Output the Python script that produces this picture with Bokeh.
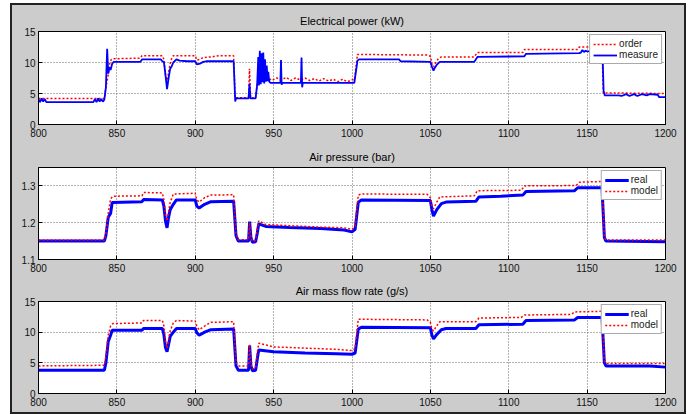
from bokeh.plotting import figure
from bokeh.layouts import column
from bokeh.models import Legend, LegendItem, FixedTicker, Range1d
from bokeh.embed import file_html
from bokeh.resources import INLINE

x_ticks = [800, 850, 900, 950, 1000, 1050, 1100, 1150, 1200]
kw_ticks = [0, 5, 10, 15]
bar_ticks = [1.1, 1.2, 1.3]

power_order = [(800, 4.2), (842, 4.2), (843, 6.0), (844.5, 8.0), (845.5, 10.0), (846.5, 10.5), (848, 10.6),
               (865, 10.7), (866, 11.1), (879, 11.1), (880, 10.5), (881, 8.0), (882, 6.8), (883, 8.5),
               (884, 9.8), (885, 10.7), (886, 11.1), (900, 11.1), (901, 10.4), (903, 10.5), (905, 10.8),
               (910, 10.9), (915, 11.1), (924.5, 11.1), (925.5, 4.3), (934, 4.3), (934.6, 9.0), (935.3, 4.3),
               (938.5, 4.3), (939.5, 6.5), (940.5, 7.5), (943, 7.2), (946, 7.6), (949, 7.1), (952, 7.5),
               (955, 7.2), (958, 7.6), (961, 7.1), (964, 7.5), (967, 7.2), (970, 7.5), (973, 7.1), (976, 7.4),
               (979, 7.0), (982, 7.4), (985, 7.0), (988, 7.3), (991, 6.9), (994, 7.3), (997, 6.9), (1000, 7.2),
               (1001.5, 7.2), (1003.5, 11.3), (1048, 11.2), (1050, 11.0), (1051, 9.8), (1052, 9.3), (1053, 9.8),
               (1055, 10.6), (1057, 10.9), (1078, 10.9), (1080, 11.6), (1109, 11.6), (1110, 12.1), (1144, 12.1),
               (1145, 12.5), (1159.5, 12.5), (1160.3, 5.1), (1200, 5.0)]

power_measure = [(800, 4.1), (801, 3.6), (802, 4.2), (803, 3.7), (804, 4.1), (805, 3.6), (806, 3.6), (835, 3.6),
                 (836, 4.1), (837, 3.6), (838, 4.2), (839, 3.7), (840, 4.1), (841, 3.7), (842, 4.0), (843, 6.0),
                 (843.8, 12.2), (844.5, 8.2), (845.2, 9.2), (846, 8.8), (847, 9.8), (848, 10.1), (865, 10.1),
                 (866, 10.5), (878, 10.5), (879, 10.2), (880, 10.1), (881, 8.0), (882, 5.7), (883, 7.5), (884, 9.0),
                 (885, 9.4), (886, 10.0), (888, 10.5), (890, 10.3), (895, 10.2), (900, 10.2), (901, 9.7),
                 (903, 9.8), (905, 10.1), (907, 10.2), (924.5, 10.2), (925.5, 3.7), (926, 4.2), (934, 4.2),
                 (934.6, 6.6), (935.2, 4.2), (938.5, 4.2), (939.5, 6.4), (940.2, 10.9), (940.6, 6.3),
                 (941.2, 11.9), (941.8, 6.5), (942.3, 11.5), (942.8, 6.8), (943.4, 11.6), (944.0, 6.6),
                 (944.5, 10.5), (945.0, 6.9), (945.6, 9.5), (946.2, 7.0), (946.6, 8.5), (947.2, 6.9), (948, 6.7),
                 (954.3, 6.7), (954.7, 10.4), (955.1, 6.4), (955.5, 6.7), (967.4, 6.7), (967.8, 10.8), (968.2, 6.0),
                 (968.6, 6.7), (1001.5, 6.7), (1003.5, 10.3), (1004.5, 10.5), (1030, 10.5), (1031, 10.2),
                 (1050, 10.1), (1051, 9.3), (1052, 8.7), (1053, 9.2), (1054, 9.6), (1056, 10.1), (1078, 10.1),
                 (1080, 10.9), (1110, 11.0), (1111, 11.4), (1145, 11.5), (1146, 11.6), (1147, 12.0), (1148, 11.7),
                 (1149, 11.9), (1150, 11.8), (1159.8, 11.8), (1160.5, 5.5), (1161.2, 4.7), (1170, 4.7),
                 (1172, 4.6), (1175, 4.9), (1177, 4.6), (1180, 4.9), (1182, 4.6), (1185, 4.9), (1188, 4.7),
                 (1190, 4.9), (1195, 4.8), (1196, 4.4), (1200, 4.4)]

pressure_real = [(800, 1.150), (842, 1.150), (843, 1.165), (844.5, 1.215), (846, 1.225), (847, 1.255), (866, 1.257),
                 (867, 1.263), (879, 1.262), (880, 1.245), (881, 1.205), (882, 1.186), (883, 1.215), (884, 1.235),
                 (886, 1.25), (888, 1.262), (900, 1.262), (901, 1.245), (902.5, 1.240), (906, 1.25), (910, 1.257),
                 (924.5, 1.258), (926, 1.165), (927.5, 1.15), (934, 1.15), (934.7, 1.203), (935.5, 1.16),
                 (936.5, 1.147), (938.5, 1.148), (939.5, 1.17), (940.5, 1.197), (945, 1.190), (960, 1.187),
                 (980, 1.184), (995, 1.180), (1000, 1.175), (1002, 1.182), (1004, 1.255), (1006, 1.262),
                 (1050, 1.260), (1051, 1.235), (1052, 1.218), (1054, 1.235), (1057, 1.252), (1060, 1.256),
                 (1079, 1.258), (1081, 1.27), (1095, 1.272), (1109, 1.275), (1111, 1.285), (1142, 1.287),
                 (1144, 1.295), (1159.5, 1.295), (1161, 1.16), (1162, 1.15), (1200, 1.148)]

pressure_model = [(800, 1.153), (842, 1.153), (843, 1.17), (844.5, 1.225), (846, 1.265), (847.5, 1.272), (866, 1.273),
                  (867, 1.282), (879, 1.281), (880, 1.262), (881, 1.22), (882, 1.205), (883, 1.23), (884, 1.255),
                  (886, 1.278), (900, 1.28), (901, 1.262), (902.5, 1.256), (906, 1.268), (910, 1.275),
                  (924.5, 1.276), (926, 1.17), (927.5, 1.154), (934, 1.154), (934.7, 1.2), (935.5, 1.16),
                  (936.5, 1.15), (938.5, 1.152), (939.5, 1.18), (940.5, 1.205), (945, 1.195), (960, 1.192),
                  (980, 1.188), (995, 1.186), (1000, 1.182), (1002, 1.19), (1004, 1.275), (1006, 1.278),
                  (1048, 1.277), (1050, 1.268), (1051, 1.245), (1052, 1.238), (1054, 1.255), (1056, 1.27),
                  (1078, 1.273), (1080, 1.287), (1108, 1.288), (1110, 1.3), (1143, 1.301), (1145, 1.31),
                  (1159.5, 1.312), (1161, 1.16), (1162, 1.153), (1200, 1.153)]

flow_real = [(800, 3.8), (842, 3.8), (843, 5.0), (844.5, 8.5), (846, 9.5), (847, 10.3), (866, 10.3), (867, 10.6),
             (879, 10.6), (880, 9.6), (881, 7.5), (882, 6.8), (883, 8.0), (884, 9.3), (886, 10.0), (888, 10.6),
             (900, 10.6), (901, 9.9), (902.5, 9.5), (906, 10.0), (910, 10.4), (924.5, 10.5), (926, 4.5),
             (927.5, 3.8), (934, 3.8), (934.7, 7.8), (935.5, 4.5), (936.5, 3.7), (938.5, 3.8), (939.5, 5.5),
             (940.5, 7.1), (950, 6.8), (970, 6.6), (990, 6.5), (1000, 6.4), (1002, 6.6), (1004, 10.5),
             (1006, 10.8), (1050, 10.7), (1051, 9.5), (1052, 8.9), (1054, 9.6), (1057, 10.4), (1060, 10.6),
             (1079, 10.6), (1081, 11.2), (1109, 11.3), (1111, 11.9), (1142, 12.0), (1144, 12.4), (1159.5, 12.4),
             (1161, 5.0), (1162, 4.5), (1190, 4.5), (1200, 4.3)]

flow_model = [(800, 4.5), (842, 4.6), (843, 6.0), (844.5, 9.5), (846, 11.0), (847.5, 11.4), (866, 11.5), (867, 11.9),
              (879, 11.9), (880, 11.0), (881, 8.5), (882, 7.4), (883, 8.8), (884, 10.2), (886, 11.5), (888, 11.9),
              (900, 11.8), (901, 10.9), (902.5, 10.4), (906, 11.0), (910, 11.6), (924.5, 11.7), (926, 5.0),
              (927.5, 4.5), (934, 4.5), (934.7, 8.0), (935.5, 4.8), (936.5, 4.0), (938.5, 4.2), (939.5, 6.5),
              (940.5, 8.2), (950, 7.6), (970, 7.4), (990, 7.2), (1000, 7.0), (1002, 7.3), (1004, 12.1),
              (1006, 12.1), (1048, 12.0), (1050, 11.6), (1051, 10.5), (1052, 10.2), (1054, 11.0), (1056, 11.7),
              (1079, 11.7), (1081, 12.3), (1108, 12.4), (1110, 12.8), (1140, 12.9), (1142, 13.3), (1159.5, 13.4),
              (1161, 5.3), (1162, 4.9), (1200, 4.9)]

FONT = "Liberation Sans"
BLUE = "#0000ff"
RED = "#ff0000"


def xs(pts):
    return [p[0] for p in pts]


def ys(pts):
    return [p[1] for p in pts]


def panel(title, yr, yticks, top, fh, bottom):
    p = figure(frame_width=627, frame_height=fh, x_range=Range1d(800, 1200), y_range=Range1d(*yr),
               output_backend="svg", toolbar_location=None,
               min_border_left=26, min_border_right=19, min_border_top=top, min_border_bottom=bottom,
               border_fill_color="#cccccc", background_fill_color="white",
               outline_line_color="black", outline_line_width=1, title=title)
    p.title.text_font = FONT
    p.title.text_font_size = "11px"
    p.title.text_font_style = "normal"
    p.title.align = "center"
    p.title.text_color = "black"
    for ax in (p.xaxis[0], p.yaxis[0]):
        ax.major_label_text_font = FONT
        ax.major_label_text_font_size = "10px"
        ax.major_label_text_color = "#111111"
        ax.major_tick_in = 4
        ax.major_tick_out = 0
        ax.minor_tick_in = 0
        ax.minor_tick_out = 0
        ax.axis_line_color = "black"
        ax.major_tick_line_color = "black"
    p.xaxis[0].ticker = FixedTicker(ticks=x_ticks)
    p.yaxis[0].ticker = FixedTicker(ticks=yticks)
    p.xaxis[0].major_label_standoff = 4
    p.yaxis[0].major_label_standoff = 3
    for g in (p.xgrid[0], p.ygrid[0]):
        g.grid_line_color = "#666666"
        g.grid_line_dash = "1 2"
        g.grid_line_width = 1
    return p


def add_legend(p, items):
    lg = Legend(items=items, location="top_right")
    lg.label_text_font = FONT
    lg.label_text_font_size = "10px"
    lg.label_text_color = "#222222"
    lg.glyph_width = 24
    lg.glyph_height = 10
    lg.label_height = 10
    lg.label_standoff = 2
    lg.padding = 3
    lg.spacing = 0
    lg.margin = 3
    lg.border_line_color = "#555555"
    lg.background_fill_color = "white"
    lg.background_fill_alpha = 1
    p.add_layout(lg)


p1 = panel("Electrical power (kW)", (0, 15), kw_ticks, 26, 93, 18)
r1 = p1.line(xs(power_order), ys(power_order), color=RED, line_width=1.5, line_dash="2 2")
b1 = p1.line(xs(power_measure), ys(power_measure), color=BLUE, line_width=1.8)
add_legend(p1, [LegendItem(label="order", renderers=[r1]), LegendItem(label="measure", renderers=[b1])])

p2 = panel("Air pressure (bar)", (1.1, 1.35), bar_ticks, 25, 92, 17)
b2 = p2.line(xs(pressure_real), ys(pressure_real), color=BLUE, line_width=3)
r2 = p2.line(xs(pressure_model), ys(pressure_model), color=RED, line_width=1.5, line_dash="2 2")
add_legend(p2, [LegendItem(label="real", renderers=[b2]), LegendItem(label="model", renderers=[r2])])

p3 = panel("Air mass flow rate (g/s)", (0, 15), kw_ticks, 25, 92, 19)
b3 = p3.line(xs(flow_real), ys(flow_real), color=BLUE, line_width=3)
r3 = p3.line(xs(flow_model), ys(flow_model), color=RED, line_width=1.5, line_dash="2 2")
add_legend(p3, [LegendItem(label="real", renderers=[b3]), LegendItem(label="model", renderers=[r3])])

layout = column(p1, p2, p3, spacing=0,
                styles={"border": "2px solid #222222", "margin-left": "10px", "margin-top": "3px",
                        "background-color": "#cccccc"})

open("out.html", "w").write(file_html(layout, INLINE))
